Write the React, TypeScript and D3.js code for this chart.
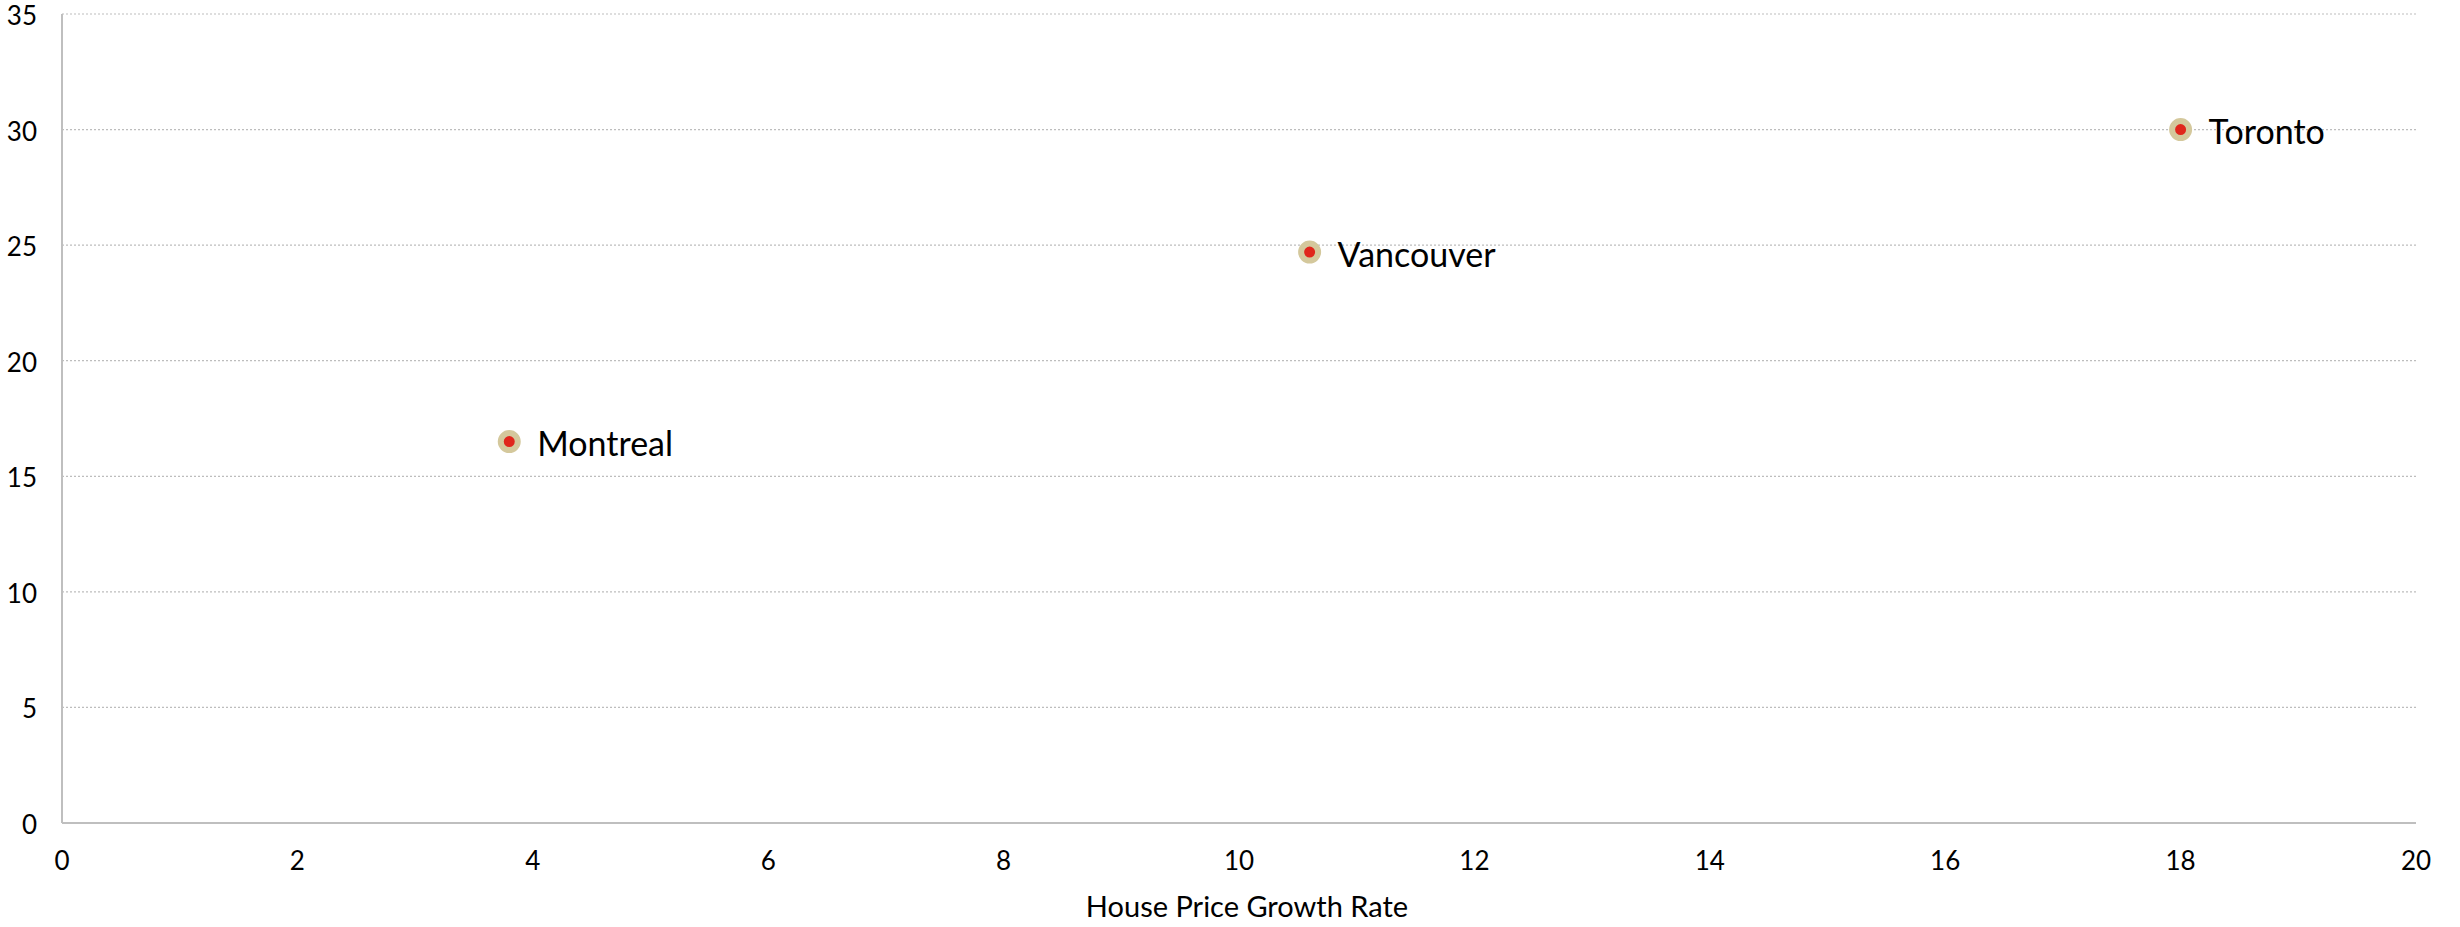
import React from "react";
import * as d3 from "d3";

const cities = ["Montreal", "Vancouver", "Toronto"];
const growthRate = [3.8, 10.6, 18.0];
const yValues = [16.5, 24.7, 30.0];
const xTicks = [0, 2, 4, 6, 8, 10, 12, 14, 16, 18, 20];
const yTicks = [0, 5, 10, 15, 20, 25, 30, 35];
const xTitle = "House Price Growth Rate";

const W = 2460;
const H = 927;
const left = 62;
const right = 2416;
const top = 14;
const bottom = 823;
const FONT = "Lato, 'Open Sans', 'Noto Sans', sans-serif";

export default function App() {
  const x = d3.scaleLinear().domain([0, 20]).range([left, right]);
  const y = d3.scaleLinear().domain([0, 35]).range([bottom, top]);

  return (
    <svg
      width={W}
      height={H}
      style={{ position: "absolute", left: 0, top: 0, background: "#fff" }}
      fontFamily={FONT}
    >
      <rect x={0} y={0} width={W} height={H} fill="#fff" />
      {yTicks.filter((t) => t !== 0).map((t) => (
        <line
          key={"g" + t}
          x1={left}
          x2={right}
          y1={y(t)}
          y2={y(t)}
          stroke="#bdbdbd"
          strokeWidth={1.2}
          strokeDasharray="2 2"
        />
      ))}
      <line x1={left} x2={left} y1={top} y2={bottom} stroke="#bfbfbf" strokeWidth={2} />
      <line x1={left} x2={right} y1={bottom} y2={bottom} stroke="#bfbfbf" strokeWidth={2} />
      {yTicks.map((t) => (
        <text
          key={"yt" + t}
          x={37}
          y={y(t) + 1}
          textAnchor="end"
          dominantBaseline="central"
          fontSize={26}
          fill="#000"
        >
          {t}
        </text>
      ))}
      {xTicks.map((t) => (
        <text
          key={"xt" + t}
          x={x(t)}
          y={860}
          textAnchor="middle"
          dominantBaseline="central"
          fontSize={26}
          fill="#000"
        >
          {t}
        </text>
      ))}
      <text
        x={(left + right) / 2 + 8}
        y={917}
        textAnchor="middle"
        fontSize={29}
        fill="#000"
      >
        {xTitle}
      </text>
      {cities.map((c, i) => (
        <g key={c}>
          <circle
            cx={x(growthRate[i])}
            cy={y(yValues[i])}
            r={8.5}
            fill="#e0261c"
            stroke="#d4c89c"
            strokeWidth={6}
          />
          <text
            x={x(growthRate[i]) + 28}
            y={y(yValues[i]) + 1}
            dominantBaseline="central"
            fontSize={34}
            fill="#000"
          >
            {c}
          </text>
        </g>
      ))}
    </svg>
  );
}
